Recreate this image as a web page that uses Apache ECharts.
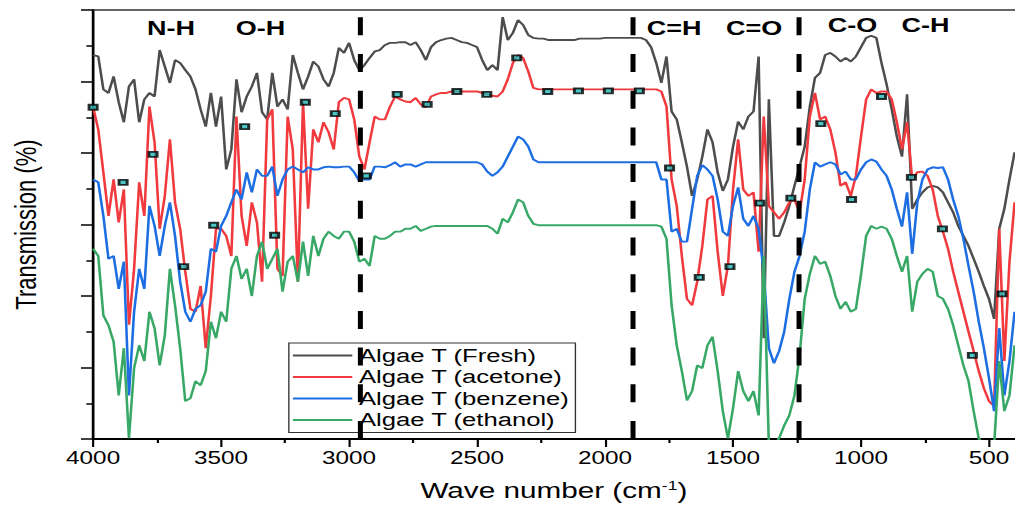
<!DOCTYPE html>
<html>
<head>
<meta charset="utf-8">
<script src="https://cdn.jsdelivr.net/npm/echarts@6/dist/echarts.min.js"></script>
<style>
  html, body { margin: 0; padding: 0; background: #fff; overflow: hidden; }
  /* the source figure is stretched sideways, so the chart is drawn narrow and widened */
  #chart { width: 752px; height: 506px; transform: scaleX(1.34973); transform-origin: 0 0; }
</style>
</head>
<body>
<div id="chart"></div>
<script>
// wave number samples (cm-1)
const wave = [
  4000, 3980, 3960, 3940, 3920, 3900, 3880, 3860, 3840, 3820,
  3800, 3780, 3760, 3740, 3720, 3700, 3680, 3660, 3640, 3620,
  3600, 3580, 3560, 3540, 3520, 3500, 3480, 3460, 3440, 3420,
  3400, 3380, 3360, 3340, 3320, 3300, 3280, 3260, 3240, 3220,
  3200, 3180, 3160, 3140, 3120, 3100, 3080, 3060, 3040, 3020,
  3000, 2980, 2960, 2940, 2920, 2900, 2880, 2860, 2840, 2820,
  2800, 2780, 2760, 2740, 2720, 2700, 2680, 2660, 2640, 2620,
  2600, 2580, 2560, 2540, 2520, 2500, 2480, 2460, 2440, 2420,
  2400, 2380, 2360, 2340, 2320, 2300, 2280, 2260, 2240, 2220,
  2200, 2180, 2160, 2140, 2120, 2100, 2080, 2060, 2040, 2020,
  2000, 1980, 1960, 1940, 1920, 1900, 1880, 1860, 1840, 1820,
  1800, 1780, 1760, 1740, 1720, 1700, 1680, 1660, 1640, 1620,
  1600, 1580, 1560, 1540, 1520, 1500, 1480, 1460, 1440, 1420,
  1400, 1380, 1360, 1340, 1320, 1300, 1280, 1260, 1240, 1220,
  1200, 1180, 1160, 1140, 1120, 1100, 1080, 1060, 1040, 1020,
  1000, 980, 960, 940, 920, 900, 880, 860, 840, 820,
  800, 780, 760, 740, 720, 700, 680, 660, 640, 620,
  600, 580, 560, 540, 520, 500, 480, 460, 440, 420,
  400
];

const fresh = [
  53.7, 53.5, 48.9, 48.4, 50.7, 47.1, 44.3, 49.3, 50.3, 44.3,
  47.5, 48.4, 47.9, 54.4, 52.1, 49.8, 53.0, 52.6, 51.6, 50.7,
  48.9, 46.1, 43.7, 48.4, 43.7, 47.9, 37.7, 40.5, 50.3, 45.7,
  47.9, 49.3, 51.2, 45.7, 44.7, 51.2, 46.5, 47.5, 46.1, 53.7,
  51.2, 48.9, 50.7, 52.8, 52.1, 50.3, 49.3, 51.2, 54.7, 54.0,
  55.4, 53.0, 51.6, 52.3, 53.3, 54.2, 54.4, 55.1, 55.4, 55.4,
  55.5, 55.5, 55.1, 55.5, 54.4, 53.0, 54.8, 55.5, 55.8, 56.0,
  56.1, 55.8, 55.5, 55.4, 55.1, 54.8, 53.0, 51.6, 52.3, 51.6,
  59.0, 55.8, 56.8, 58.6, 57.9, 56.5, 56.1, 56.0, 56.0, 55.8,
  55.8, 55.8, 55.8, 55.8, 55.8, 56.0, 56.0, 56.0, 56.0, 56.0,
  56.1, 56.1, 56.1, 56.1, 56.1, 56.1, 56.1, 56.1, 55.8, 54.8,
  52.6, 49.8, 53.5, 45.8, 44.7, 41.5, 38.1, 34.0, 36.3, 39.5,
  43.3, 41.5, 37.3, 34.7, 36.3, 40.9, 44.4, 43.3, 45.1, 45.8,
  53.5, 14.1, 47.5, 28.4, 28.4, 30.3, 32.6, 35.4, 38.1, 40.9,
  46.5, 50.5, 51.2, 53.7, 54.0, 53.5, 52.8, 53.3, 52.8, 53.5,
  54.8, 56.1, 56.4, 56.1, 52.6, 49.6, 46.1, 42.3, 39.5, 48.2,
  32.2, 33.5, 34.5, 35.2, 35.4, 35.2, 34.5, 33.1, 31.7, 29.8,
  28.4, 27.0, 25.2, 23.4, 21.4, 19.6, 16.8, 29.4, 32.2, 36.3,
  40.1
];

const acetone = [
  46.4, 43.3, 37.3, 31.2, 36.3, 30.3, 34.9, 16.0, 23.8, 35.9,
  31.2, 46.5, 41.5, 29.4, 34.0, 41.9, 33.1, 29.4, 23.4, 18.2,
  17.8, 21.4, 12.7, 20.0, 29.4, 29.4, 28.4, 25.6, 45.1, 31.2,
  27.0, 33.1, 30.3, 22.0, 44.7, 46.1, 23.8, 22.8, 45.1, 40.5,
  22.0, 47.1, 32.2, 43.3, 41.5, 44.3, 42.9, 40.5, 47.1, 47.7,
  47.5, 44.7, 39.5, 37.7, 41.5, 45.1, 44.7, 44.7, 46.5, 47.9,
  47.5, 47.2, 47.1, 47.7, 46.8, 46.4, 47.9, 48.2, 48.4, 48.4,
  48.6, 48.6, 48.6, 48.6, 48.6, 48.6, 48.4, 48.2, 48.0, 47.9,
  48.6, 50.3, 52.6, 53.7, 53.3, 51.4, 49.1, 48.9, 48.9, 48.9,
  48.9, 48.9, 48.9, 48.9, 48.9, 48.9, 48.9, 48.9, 48.9, 48.9,
  48.9, 48.9, 48.9, 48.9, 48.9, 48.9, 48.9, 48.9, 48.9, 48.9,
  48.9, 48.6, 46.5, 36.3, 32.6, 25.6, 19.6, 18.7, 22.0, 27.0,
  33.5, 34.0, 26.2, 20.0, 24.2, 34.9, 41.9, 34.9, 34.0, 34.5,
  26.2, 45.1, 32.6, 31.7, 30.8, 31.7, 33.1, 33.5, 31.7, 36.3,
  45.1, 48.4, 44.7, 45.1, 43.3, 40.1, 35.4, 35.9, 34.0, 36.8,
  42.3, 47.5, 48.9, 48.4, 48.6, 48.6, 47.5, 44.3, 40.5, 44.3,
  36.3, 37.3, 37.4, 36.8, 34.9, 31.2, 29.0, 26.6, 23.4, 20.6,
  17.8, 15.0, 12.3, 9.5, 7.1, 5.3, 4.6, 29.4, 10.9, 24.8,
  33.1
];

const benzene = [
  36.3, 35.9, 31.2, 25.2, 25.6, 21.0, 24.8, 6.1, 17.8, 23.8,
  21.0, 32.6, 29.8, 25.6, 29.8, 33.1, 28.4, 22.0, 17.8, 16.4,
  18.2, 18.7, 20.6, 26.6, 26.2, 29.8, 31.2, 33.1, 34.9, 33.5,
  37.3, 34.5, 37.7, 36.8, 36.8, 38.1, 34.0, 36.3, 37.7, 38.1,
  37.7, 37.3, 38.0, 37.7, 37.7, 38.0, 38.1, 38.0, 38.0, 38.1,
  38.1, 37.3, 36.1, 36.3, 36.3, 38.1, 38.1, 38.0, 38.3, 38.7,
  38.1, 38.4, 38.4, 38.1, 38.4, 38.7, 38.7, 38.7, 38.7, 38.7,
  38.7, 38.7, 38.7, 38.7, 38.7, 38.7, 38.4, 37.4, 36.8, 37.3,
  38.1, 39.5, 40.9, 42.3, 41.9, 40.9, 39.1, 38.7, 38.7, 38.7,
  38.7, 38.7, 38.7, 38.7, 38.7, 38.7, 38.7, 38.7, 38.7, 38.7,
  38.7, 38.7, 38.7, 38.7, 38.7, 38.7, 38.7, 38.7, 38.7, 38.7,
  38.7, 36.3, 36.3, 29.0, 29.4, 27.6, 27.6, 32.2, 36.8, 38.3,
  37.7, 36.8, 33.5, 29.0, 28.4, 32.6, 35.2, 30.8, 29.8, 31.2,
  29.4, 23.4, 12.7, 10.6, 12.3, 15.0, 19.6, 23.4, 25.6, 29.0,
  34.9, 38.7, 38.1, 38.4, 38.7, 38.4, 37.0, 37.4, 36.3, 36.3,
  37.7, 38.7, 39.1, 38.8, 37.7, 36.8, 34.9, 32.2, 29.7, 34.5,
  25.9, 33.1, 36.3, 37.7, 38.0, 37.9, 38.0, 36.3, 33.5, 31.2,
  28.0, 24.2, 20.6, 16.4, 12.7, 8.5, 3.9, 15.5, 6.1, 10.9,
  17.8
];

const ethanol = [
  26.6, 25.6, 17.3, 15.9, 13.6, 6.1, 12.7, 0.1, 9.9, 13.1,
  10.9, 17.8, 15.5, 10.3, 14.5, 23.8, 18.7, 12.7, 5.3, 5.7,
  8.1, 7.5, 9.5, 16.4, 14.1, 17.8, 16.4, 23.8, 25.6, 22.4,
  23.8, 20.0, 25.6, 27.6, 23.8, 25.2, 26.6, 20.6, 24.8, 25.6,
  22.0, 27.6, 22.8, 28.4, 25.6, 28.0, 29.0, 28.4, 28.0, 29.0,
  29.0, 27.6, 24.8, 25.2, 24.2, 28.4, 28.0, 28.0, 28.4, 29.0,
  29.0, 29.4, 29.4, 29.8, 29.1, 29.4, 29.7, 29.8, 29.8, 29.8,
  29.8, 29.8, 29.8, 29.8, 29.8, 29.8, 29.8, 29.8, 29.4, 28.7,
  30.8, 30.3, 31.7, 33.5, 33.1, 31.2, 30.1, 29.9, 29.9, 29.9,
  29.9, 29.9, 29.9, 29.9, 29.9, 29.9, 29.9, 29.9, 29.9, 29.9,
  29.9, 29.9, 29.9, 29.9, 29.9, 29.9, 29.9, 29.9, 29.9, 29.9,
  29.9, 29.7, 28.0, 18.7, 13.1, 9.5, 5.4, 6.7, 10.3, 9.9,
  13.1, 14.3, 9.5, 3.9, 0.1, 4.3, 9.5, 6.7, 5.3, 6.7,
  3.3, 25.6, -1, -1, 0.1, 1.9, 3.3, 6.1, 11.7, 19.6,
  23.1, 25.6, 24.5, 24.8, 22.8, 20.0, 18.2, 19.2, 17.8, 18.2,
  23.0, 28.4, 29.8, 29.4, 29.7, 29.4, 28.0, 25.6, 23.4, 25.6,
  17.8, 22.0, 23.1, 23.8, 23.4, 20.0, 19.6, 18.2, 15.9, 13.1,
  10.3, 8.1, 3.9, 0.1, -1, -1, -1, 10.9, 3.9, 6.1,
  13.1
];

const seriesNames = ['Algae T (Fresh)', 'Algae T (acetone)', 'Algae T (benzene)', 'Algae T (ethanol)'];
const seriesColors = ['#4d4d4d', '#f03a3e', '#1c6ee2', '#38a866'];

// square markers sitting on the acetone trace
const markerWave = [4000, 3883, 3766, 3646, 3529, 3408, 3291, 3171, 3054, 2933, 2812, 2695, 2579, 2462, 2345, 2224,
  2104, 1987, 1866, 1748, 1632, 1512, 1395, 1274, 1157, 1037, 920, 803, 682, 565, 449];
const markerValue = [46.4, 35.9, 39.8, 24.1, 29.9, 43.7, 28.5, 47.1, 45.5, 36.8, 48.2, 46.8, 48.6, 48.2, 53.3, 48.6,
  48.7, 48.7, 48.7, 37.9, 22.6, 24.1, 33.0, 33.7, 44.1, 33.5, 47.9, 36.6, 29.4, 11.7, 20.3];

const xTicks = [4000, 3500, 3000, 2500, 2000, 1500, 1000, 500];
const xMinorTicks = [3750, 3250, 2750, 2250, 1750, 1250, 750];
const dashedAt = [2956, 1893, 1243];
const bandNames = ['N-H', 'O-H', 'C=H', 'C=O', 'C-O', 'C-H'];
const bandWave = [3696, 3346, 1730, 1418, 1033, 748];
const bandLevel = [57.5, 57.5, 57.5, 57.5, 57.9, 57.9];

const font = '"Liberation Sans", Arial, sans-serif';
const chart = echarts.init(document.getElementById('chart'), null, { renderer: 'svg' });

const lineSeries = [fresh, acetone, benzene, ethanol].map((vals, k) => ({
  name: seriesNames[k],
  type: 'line',
  data: wave.map((w, i) => [w, vals[i]]),
  showSymbol: false,
  symbol: 'none',
  animation: false,
  lineStyle: { width: 1.9, color: seriesColors[k] },
  itemStyle: { color: seriesColors[k] }
}));

lineSeries[3].markLine = {
  silent: true,
  symbol: ['none', 'none'],
  label: { show: false },
  animation: false,
  z: 10,
  lineStyle: { type: [18, 18.7], width: 3.7, color: '#000' },
  data: dashedAt.map(v => ({ xAxis: v }))
};

const option = {
  animation: false,
  grid: { left: 66.7, top: 10, width: 685, height: 431 },
  legend: {
    data: seriesNames,
    orient: 'vertical',
    left: 214,
    top: 343,
    icon: 'rect',
    itemWidth: 44,
    itemHeight: 2,
    itemGap: 2.5,
    padding: [3, 4, 3, 3],
    borderColor: '#333',
    borderWidth: 1,
    selectedMode: false,
    textStyle: { fontSize: 19, color: '#000', fontFamily: font }
  },
  xAxis: [
    {
      type: 'value', min: 400, max: 4000, inverse: true, position: 'bottom',
      axisLine: { lineStyle: { color: '#000', width: 2 } },
      axisTick: { customValues: xTicks, length: 8, lineStyle: { color: '#000', width: 1.6 } },
      axisLabel: {
        customValues: xTicks, fontSize: 18, color: '#000', margin: 10, fontFamily: font,
        formatter: v => String(v)
      },
      splitLine: { show: false },
      name: 'Wave number (cm{sup|-1})',
      nameLocation: 'middle',
      nameGap: 40,
      nameTextStyle: {
        fontSize: 22, color: '#000', fontFamily: font,
        rich: { sup: { fontSize: 13, verticalAlign: 'top', color: '#000', fontFamily: font } }
      }
    },
    {
      type: 'value', min: 400, max: 4000, inverse: true, position: 'bottom',
      axisLine: { show: false },
      axisTick: { customValues: xMinorTicks, length: 4, lineStyle: { color: '#000', width: 1.6 } },
      axisLabel: { show: false },
      splitLine: { show: false }
    },
    {
      type: 'value', min: 400, max: 4000, inverse: true, position: 'top',
      axisLine: { show: true, lineStyle: { color: '#333', width: 1.5 } },
      axisTick: { show: false },
      axisLabel: { show: false },
      splitLine: { show: false }
    }
  ],
  yAxis: {
    type: 'value', min: 0, max: 60, interval: 10,
    axisLine: { show: true, lineStyle: { color: '#000', width: 2 } },
    axisTick: { show: true, length: 9, lineStyle: { color: '#000', width: 1.5 } },
    minorTick: { show: true, splitNumber: 2, length: 5, lineStyle: { color: '#000', width: 1.5 } },
    axisLabel: { show: false },
    splitLine: { show: false },
    name: 'Transmission (%)',
    nameLocation: 'middle',
    nameGap: 39,
    nameTextStyle: { fontSize: 22, color: '#000', fontFamily: font }
  },
  series: lineSeries.concat([{
    name: 'markers',
    type: 'scatter',
    data: markerWave.map((w, i) => [w, markerValue[i]]),
    symbol: 'rect',
    symbolSize: [6, 5],
    z: 5,
    itemStyle: { color: '#22b8b8', borderColor: '#000', borderWidth: 2 }
  }])
};

chart.setOption(option);

const pts = bandWave.map((w, i) => chart.convertToPixel({ xAxisIndex: 0, yAxisIndex: 0 }, [w, bandLevel[i]]));
chart.setOption({
  graphic: bandNames.map((t, i) => ({
    type: 'text',
    x: pts[i][0],
    y: pts[i][1],
    silent: true,
    style: {
      text: t, fontSize: 20, fontWeight: 'bold', fontFamily: font,
      fill: '#000', align: 'center', verticalAlign: 'middle'
    }
  }))
});
</script>
</body>
</html>
